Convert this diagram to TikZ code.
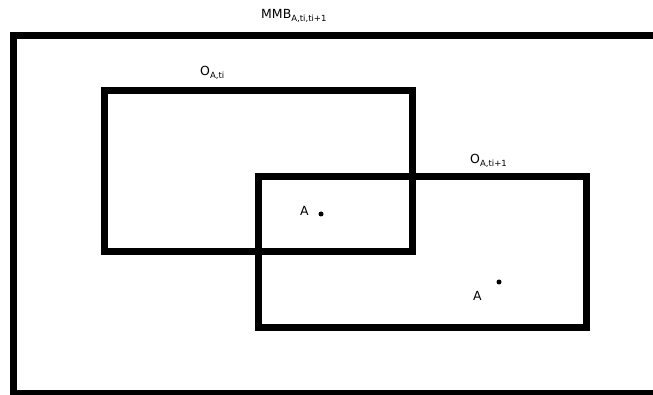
\documentclass[tikz,border=0pt]{standalone}
\usepackage{fontspec}
\setmainfont{DejaVu Sans}
\newcommand{\lowsub}[1]{\raisebox{-3pt}{\fontsize{8.5}{9}\selectfont #1}}
\begin{document}
\begin{tikzpicture}[x=1pt,y=-1pt,
  frame/.style={draw=black,line width=7pt},
  lbl/.style={anchor=base west,inner sep=0pt,font=\fontsize{12.5}{14}\selectfont},
  spot/.style={circle,fill=black,inner sep=0pt,minimum size=5pt}]
\useasboundingbox (0,0) rectangle (653,395);
\clip (0,0) rectangle (653,395);
\fill[white] (0,0) rectangle (653,395);
% outer bounding box
\draw[frame] (13,35.5) rectangle (670,393.5);
% object extents at ti and ti+1
\draw[frame] (104.5,90.5) rectangle (412,252);
\draw[frame] (258,176.5) rectangle (586.5,327);
% labels
\node[lbl] (mmb) at (261,19) {MMB\lowsub{A,ti,ti+1}};
\node[lbl] (o1) at (200,76) {O\lowsub{A,ti}};
\node[lbl] (o2) at (470,164) {O\lowsub{A,ti+1}};
\node[lbl] (a1) at (300,216) {A};
\node[spot] (p1) at (321,214) {};
\node[lbl] (a2) at (473,301) {A};
\node[spot] (p2) at (499,282) {};
\end{tikzpicture}
\end{document}
